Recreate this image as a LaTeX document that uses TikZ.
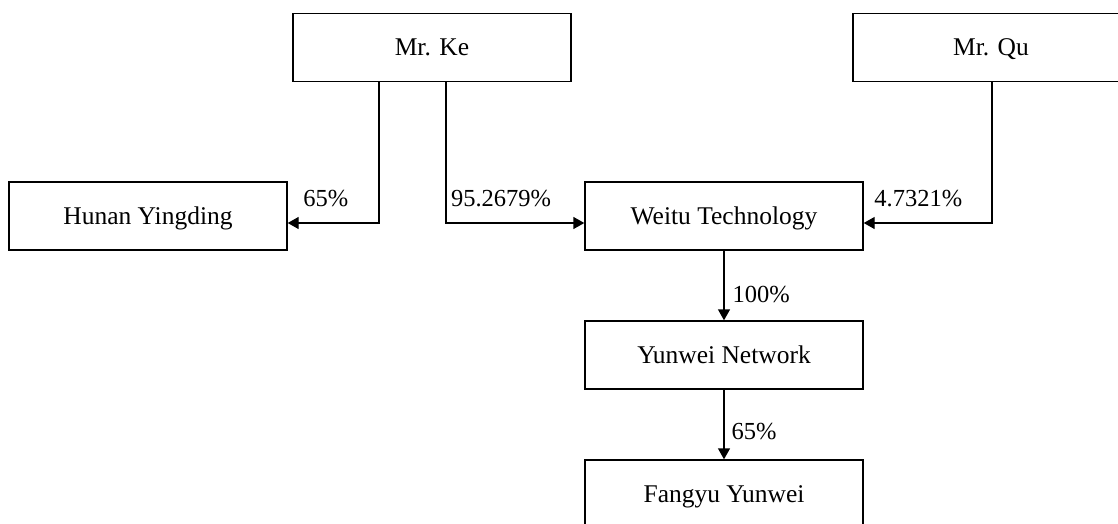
\documentclass[tikz,border=0pt]{standalone}
\usepackage{fontspec}
\setmainfont{Liberation Serif}
\usetikzlibrary{arrows.meta, positioning}

\begin{document}
\begin{tikzpicture}[x=1pt, y=-1pt, line width=1.4pt,
        box/.style={rectangle, draw, minimum width=278pt, minimum height=68pt, inner sep=0pt,
            text height=19pt, text depth=2pt, font=\fontsize{25.5}{30}\selectfont},
        arr/.style={-{Triangle[length=11pt, width=12pt]}},
        pct/.style={inner sep=0pt, font=\fontsize{24.5}{28}\selectfont}]
        \useasboundingbox (0,0) rectangle (1118,524);
        \clip (0,0) rectangle (1118,524);

        \node at (432, 47.5) [box] (ke) {Mr. Ke};
        \node at (991, 47.5) [box, minimum width=276pt] (qu) {Mr. Qu};

        \node at (148, 216) [box] (hunan) {Hunan Yingding};
        \node at (724, 216) [box] (weitu) {Weitu Technology};
        \node at (724, 355) [box] (yunwei) {Yunwei Network};
        \node at (724, 494) [box] (fangyu) {Fangyu Yunwei};

        \draw[arr] ([xshift=-53pt]ke.south) |- ([yshift=-7pt]hunan.east);
        \draw[arr] ([xshift=14pt]ke.south) |- ([yshift=-7pt]weitu.west);
        \draw[arr] ([xshift=1pt]qu.south) |- ([yshift=-7pt]weitu.east);
        \draw[arr] (weitu) -- node[pct, right=8pt, pos=0.63] {100\%} (yunwei);
        \draw[arr] (yunwei) -- node[pct, right=7pt, pos=0.6] {65\%} (fangyu);

        \node[pct, anchor=south west] at ([xshift=15pt, yshift=8pt]hunan.east) (p1) {65\%};
        \node[pct, anchor=south west] at ([xshift=-134pt, yshift=8pt]weitu.west) (p2) {95.2679\%};
        \node[pct, anchor=south west] at ([xshift=10pt, yshift=8pt]weitu.east) (p3) {4.7321\%};
\end{tikzpicture}
\end{document}
